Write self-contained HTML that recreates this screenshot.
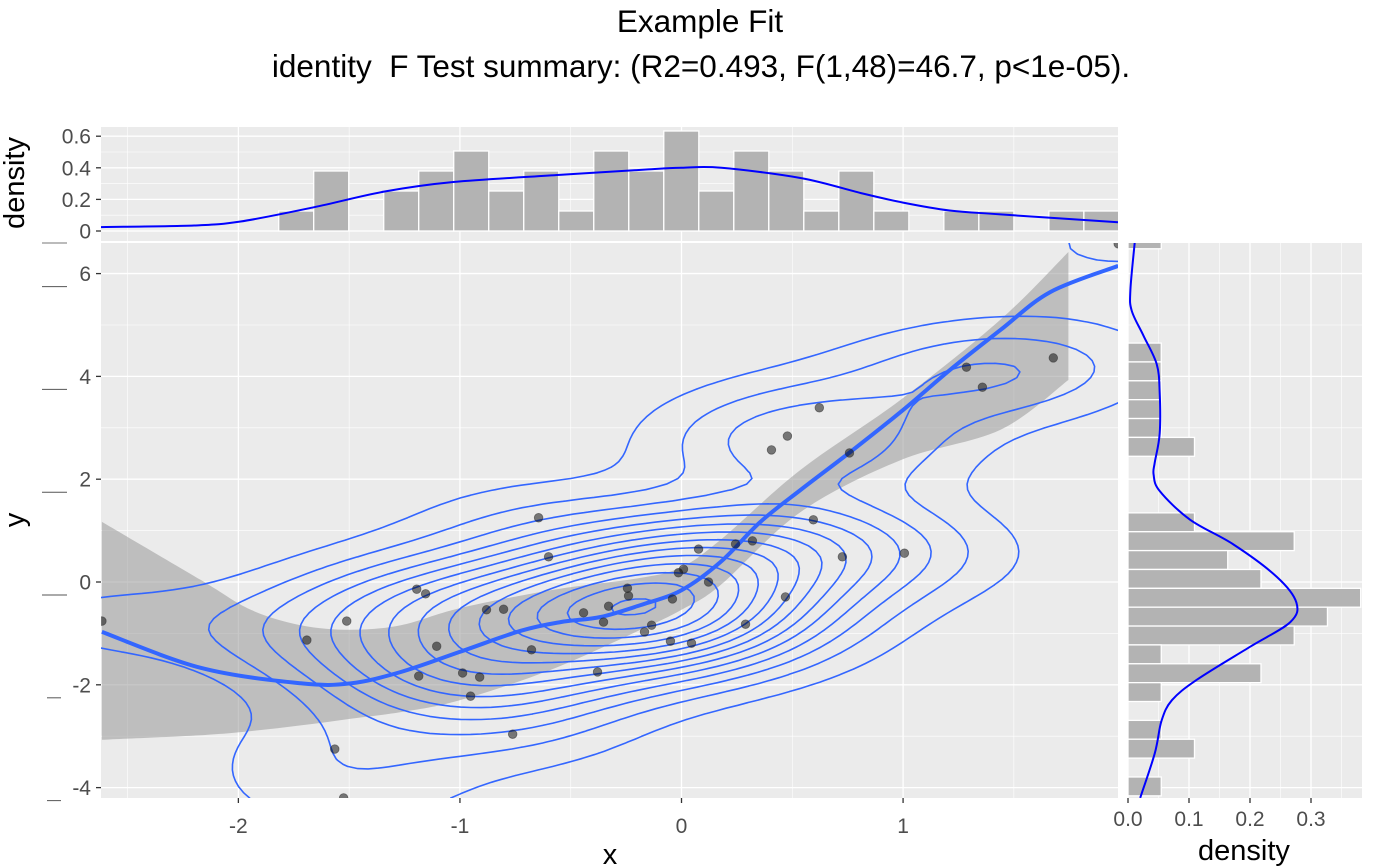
<!DOCTYPE html>
<html><head><meta charset="utf-8"><title>Example Fit</title>
<style>
html,body{margin:0;padding:0;background:#fff;}
svg{display:block;font-family:"Liberation Sans",Arial,sans-serif;}
</style></head>
<body>
<svg id="chart" width="1400" height="866" viewBox="0 0 1400 866" xmlns="http://www.w3.org/2000/svg">
<defs>
<clipPath id="clipMain"><rect x="101" y="243" width="1017" height="555"/></clipPath>
<clipPath id="clipTop"><rect x="101" y="127" width="1017" height="114"/></clipPath>
<clipPath id="clipRight"><rect x="1128" y="243" width="234" height="555"/></clipPath>
</defs>
<text x="700" y="32" font-size="31.5" text-anchor="middle" fill="#000">Example Fit</text>
<text x="701" y="77" font-size="31.5" text-anchor="middle" fill="#000" xml:space="preserve">identity  F Test summary: (R2=0.493, F(1,48)=46.7, p&lt;1e-05).</text>
<rect x="101" y="127" width="1017" height="114" fill="#EBEBEB"/>
<rect x="101" y="243" width="1017" height="555" fill="#EBEBEB"/>
<rect x="1128" y="243" width="234" height="555" fill="#EBEBEB"/>
<g id="gGrid"></g>
<g id="gTop" clip-path="url(#clipTop)"></g>
<g id="gMain" clip-path="url(#clipMain)"></g>
<g id="gRight" clip-path="url(#clipRight)"></g>
<g id="gAxes"></g>
<text transform="translate(24,183) rotate(-90)" font-size="29" text-anchor="middle" fill="#000">density</text>
<text transform="translate(24,520) rotate(-90)" font-size="29" text-anchor="middle" fill="#000">y</text>
<text x="610" y="864" font-size="29" text-anchor="middle" fill="#000">x</text>
<text x="1244" y="860" font-size="29" text-anchor="middle" fill="#000">density</text>
</svg>
<script>
// ---------- data ----------
const ptX=[-2.616,-1.565,-1.525,-1.691,-1.511,-1.195,-1.155,-1.186,-1.105,-0.988,-0.952,-0.911,-0.880,-0.803,-0.645,-0.600,-0.677,-0.762,-0.442,-0.379,-0.352,-0.329,-0.244,-0.239,-0.167,-0.135,-0.050,-0.041,-0.014,0.009,0.045,0.077,0.122,0.244,0.289,0.320,0.406,0.478,0.469,0.622,0.595,0.726,0.758,1.006,1.286,1.358,1.678,1.971];
const ptY=[-0.76,-3.25,-4.20,-1.13,-0.76,-0.14,-0.23,-1.83,-1.25,-1.77,-2.22,-1.85,-0.54,-0.53,1.25,0.49,-1.32,-2.96,-0.60,-1.75,-0.78,-0.47,-0.12,-0.27,-0.97,-0.84,-1.15,-0.33,0.18,0.25,-1.19,0.64,0.0,0.74,-0.82,0.80,2.57,2.84,-0.29,3.39,1.21,0.49,2.51,0.56,4.18,3.79,4.36,6.58];
const fitX=[-2.616,-2.17,-1.719,-1.493,-1.267,-1.001,-0.726,-0.546,-0.365,-0.185,0,0.176,0.356,0.537,0.762,1.001,1.213,1.439,1.664,1.971];
const fitY=[-0.97,-1.67,-1.97,-1.97,-1.75,-1.36,-0.95,-0.78,-0.68,-0.45,-0.16,0.39,1.17,1.79,2.53,3.35,4.13,4.90,5.64,6.15];
const bandX=[-2.616,-2.17,-1.944,-1.719,-1.493,-1.267,-1.001,-0.591,-0.185,0,0.176,0.537,0.988,1.439,1.746];
const bandHi=[1.17,0.04,-0.54,-0.84,-0.93,-0.84,-0.51,-0.16,0.08,0.29,0.82,2.18,3.54,5.10,6.42];
const bandLo=[-3.07,-2.98,-2.90,-2.79,-2.66,-2.53,-2.30,-1.71,-0.93,-0.54,-0.06,1.36,2.37,2.96,3.93];
const topCounts=[1,3,0,2,3,4,2,3,1,4,3,5,2,4,3,1,3,1,0,1,1,0,1,1];
const topBinStart=-1.818, topBinW=0.158;
const rightCounts=[1,0,0,0,0,0,1,1,1,1,1,2,0,0,0,2,5,3,4,7,6,5,1,4,1,0,1,2,0,1];
const rightBinTop=6.85, rightBinW=0.367;
const nObs=50;
const topDensX=[-2.62,-2.2,-1.99,-1.66,-1.34,-1.03,-0.55,-0.15,0.0,0.18,0.54,0.81,1.0,1.21,1.44,1.97];
const topDensY=[0.025,0.035,0.06,0.15,0.25,0.31,0.355,0.39,0.40,0.40,0.335,0.24,0.18,0.13,0.105,0.055];
const rDensY=[6.60,5.68,5.28,4.80,4.24,3.68,2.89,2.33,2.09,1.77,1.21,0.73,0.10,-0.40,-0.78,-1.26,-1.90,-2.30,-2.70,-3.33,-4.20];
const rDensD=[0.011,0.004,0.006,0.025,0.047,0.052,0.052,0.044,0.042,0.052,0.102,0.173,0.244,0.276,0.266,0.2,0.113,0.072,0.055,0.044,0.020];
const xTicks=[-2,-1,0,1], xMinor=[-2.5,-1.5,-0.5,0.5,1.5];
const yTicks=[-4,-2,0,2,4,6], yMinor=[-3,-1,1,3,5];
const tTicks=[0,0.2,0.4,0.6], tMinor=[0.1,0.3,0.5];
const tTickLabels=["0","0.2","0.4","0.6"];
const rTicks=[0,0.1,0.2,0.3], rMinor=[0.05,0.15,0.25,0.35];
const rTickLabels=["0.0","0.1","0.2","0.3"];

// ---------- scales ----------
const xmin=-2.62,xmax=1.97,X0=101,X1=1118;
const ymin=-4.202,ymax=6.595,Y0=798,Y1=243;
const sx=x=>X0+(x-xmin)/(xmax-xmin)*(X1-X0);
const sy=y=>Y0-(y-ymin)/(ymax-ymin)*(Y0-Y1);
const sTop=d=>231-d*158;
const sRight=d=>1128+d*610;
const NS="http://www.w3.org/2000/svg";
function mk(tag,attrs,parent){const e=document.createElementNS(NS,tag);for(const k in attrs)e.setAttribute(k,attrs[k]);parent.appendChild(e);return e;}
function smooth(pts){let d="M"+pts[0][0].toFixed(1)+","+pts[0][1].toFixed(1);
 for(let i=0;i<pts.length-1;i++){const p0=pts[i-1]||pts[i],p1=pts[i],p2=pts[i+1],p3=pts[i+2]||p2;
  const c1=[p1[0]+(p2[0]-p0[0])/6,p1[1]+(p2[1]-p0[1])/6],c2=[p2[0]-(p3[0]-p1[0])/6,p2[1]-(p3[1]-p1[1])/6];
  d+="C"+c1[0].toFixed(1)+","+c1[1].toFixed(1)+" "+c2[0].toFixed(1)+","+c2[1].toFixed(1)+" "+p2[0].toFixed(1)+","+p2[1].toFixed(1);}
 return d;}

const gGrid=document.getElementById('gGrid'),gTop=document.getElementById('gTop'),gMain=document.getElementById('gMain'),gRight=document.getElementById('gRight'),gAxes=document.getElementById('gAxes');

// ---------- grid ----------
function vline(x,y0,y1,w){const l=mk('line',{x1:x,x2:x,y1:y0,y2:y1,stroke:'#fff','stroke-width':w},gGrid);
 
 }
function hline(y,x0,x1,w){const l=mk('line',{x1:x0,x2:x1,y1:y,y2:y,stroke:'#fff','stroke-width':w},gGrid);
 
 }
xMinor.forEach(v=>{vline(sx(v),127,241,0.6);vline(sx(v),243,798,0.6);});
xTicks.forEach(v=>{vline(sx(v),127,241,1.3);vline(sx(v),243,798,1.3);});
tMinor.forEach(v=>hline(sTop(v),101,1118,0.6));
tTicks.forEach(v=>hline(sTop(v),101,1118,1.3));
yMinor.forEach(v=>{hline(sy(v),101,1118,0.6);hline(sy(v),1128,1362,0.6);});
yTicks.forEach(v=>{hline(sy(v),101,1118,1.3);hline(sy(v),1128,1362,1.3);});
rMinor.forEach(v=>vline(sRight(v),243,798,0.6));
rTicks.forEach(v=>vline(sRight(v),243,798,1.3));

// ---------- top histogram ----------
topCounts.forEach((c,i)=>{if(!c)return;const d=c/(nObs*topBinW);const x0=sx(topBinStart+i*topBinW),x1=sx(topBinStart+(i+1)*topBinW);
 const r=mk('rect',{x:x0,y:sTop(d),width:x1-x0,height:sTop(0)-sTop(d),fill:'#B3B3B3',stroke:'#fff','stroke-width':1.3},gTop);
 
 });
const tdp=mk('path',{d:smooth(topDensX.map((x,i)=>[sx(x),sTop(topDensY[i])])),fill:'none',stroke:'#0000FF','stroke-width':2},gTop);



// ---------- right histogram ----------
rightCounts.forEach((c,i)=>{if(!c)return;const d=c/(nObs*rightBinW);const yt=sy(rightBinTop-i*rightBinW),yb=sy(rightBinTop-(i+1)*rightBinW);
 const r=mk('rect',{x:sRight(0),y:yt,width:sRight(d)-sRight(0),height:yb-yt,fill:'#B3B3B3',stroke:'#fff','stroke-width':1.3},gRight);
 
 });
const rdp=mk('path',{d:smooth(rDensY.map((y,i)=>[sRight(rDensD[i]),sy(y)])),fill:'none',stroke:'#0000FF','stroke-width':2},gRight);



// ---------- confidence band ----------
const bandPts=bandX.map((x,i)=>[sx(x),sy(bandHi[i])]);
const bandLoPts=bandX.map((x,i)=>[sx(x),sy(bandLo[i])]).reverse();
const bd=smooth(bandPts)+"L"+smooth(bandLoPts).slice(1)+"Z";
const band=mk('path',{d:bd,fill:'#999999','fill-opacity':0.55,stroke:'none'},gMain);



// ---------- 2D density contours (kde2d + marching squares) ----------
function quant(a,p){const s=[...a].sort((u,v)=>u-v);const h=(s.length-1)*p,lo=Math.floor(h);return s[lo]+(h-lo)*((s[lo+1]??s[lo])-s[lo]);}
function sd(a){const m=a.reduce((s,v)=>s+v,0)/a.length;return Math.sqrt(a.reduce((s,v)=>s+(v-m)*(v-m),0)/(a.length-1));}
function bwnrd(a){const h=(quant(a,0.75)-quant(a,0.25))/1.34;return 4*1.06*Math.min(sd(a),h)*Math.pow(a.length,-0.2);}
const hx=bwnrd(ptX)/4,hy=bwnrd(ptY)/4;
const NG=100,gx=[],gy=[],Z=[];
for(let i=0;i<NG;i++){gx.push(xmin+(xmax-xmin)*i/(NG-1));gy.push(ymin+(ymax-ymin)*i/(NG-1));}
let zmax=0;
for(let j=0;j<NG;j++){Z.push([]);for(let i=0;i<NG;i++){let s=0;for(let k=0;k<ptX.length;k++){const u=(gx[i]-ptX[k])/hx,v=(gy[j]-ptY[k])/hy;s+=Math.exp(-0.5*(u*u+v*v));}
 const z=s/(2*Math.PI*ptX.length*hx*hy);Z[j].push(z);if(z>zmax)zmax=z;}}
function prettyStep(r,n){const raw=r/n;const p=Math.pow(10,Math.floor(Math.log10(raw)));const f=raw/p;return (f<1.5?1:f<3?2:f<7?5:10)*p;}
const step=prettyStep(zmax,10);const levels=[];for(let l=step;l<zmax;l+=step)levels.push(l);
levels.forEach(L=>{let d="";
 for(let j=0;j<NG-1;j++)for(let i=0;i<NG-1;i++){
  const c=[[gx[i],gy[j],Z[j][i]],[gx[i+1],gy[j],Z[j][i+1]],[gx[i+1],gy[j+1],Z[j+1][i+1]],[gx[i],gy[j+1],Z[j+1][i]]];
  const pts=[];
  for(let e=0;e<4;e++){const a=c[e],b=c[(e+1)%4];if((a[2]>=L)!==(b[2]>=L)){const t=(L-a[2])/(b[2]-a[2]);pts.push([sx(a[0]+t*(b[0]-a[0])),sy(a[1]+t*(b[1]-a[1]))]);}}
  for(let k=0;k+1<pts.length;k+=2)d+="M"+pts[k][0].toFixed(1)+","+pts[k][1].toFixed(1)+"L"+pts[k+1][0].toFixed(1)+","+pts[k+1][1].toFixed(1);
 }
 const p=mk('path',{d:d,fill:'none',stroke:'#3366FF','stroke-width':1.6,'stroke-linecap':'round'},gMain);
 
 
});

// ---------- fit line ----------
const fit=mk('path',{d:smooth(fitX.map((x,i)=>[sx(x),sy(fitY[i])])),fill:'none',stroke:'#3366FF','stroke-width':4},gMain);



// ---------- points ----------
ptX.forEach((x,i)=>{const c=mk('circle',{cx:sx(x),cy:sy(ptY[i]),r:4.3,fill:'#000','fill-opacity':0.5,stroke:'#333','stroke-opacity':0.6,'stroke-width':0.8},gMain);
 
 });

// ---------- axes ----------
function txt(x,y,s,anchor,name){const t=mk('text',{x:x,y:y,'font-size':21,'text-anchor':anchor,fill:'#4D4D4D'},gAxes);t.textContent=s;
 
 }
function tick(x1,y1,x2,y2){const l=mk('line',{x1:x1,y1:y1,x2:x2,y2:y2,stroke:'#333','stroke-width':1.3},gAxes);
 
 }
tTicks.forEach((v,i)=>{tick(96,sTop(v),101,sTop(v));txt(91,sTop(v)+7.5,tTickLabels[i],'end','top-y-tick-label');});
yTicks.forEach(v=>{tick(96,sy(v),101,sy(v));txt(91,sy(v)+7.5,String(v),'end','y-tick-label');
 const w=v>=0?[42,67]:[47,61];
 const u=mk('line',{x1:w[0],x2:w[1],y1:sy(v)+13,y2:sy(v)+13,stroke:'#555','stroke-width':1},gAxes);
 
 });
const u8=mk('line',{x1:42,x2:67,y1:243,y2:243,stroke:'#777','stroke-width':1},gAxes);


xTicks.forEach(v=>{tick(sx(v),798,sx(v),803);txt(sx(v),833,String(v),'middle','x-tick-label');});
rTicks.forEach((v,i)=>{tick(sRight(v),798,sRight(v),803);txt(sRight(v),826,rTickLabels[i],'middle','right-x-tick-label');});
</script>
</body></html>
